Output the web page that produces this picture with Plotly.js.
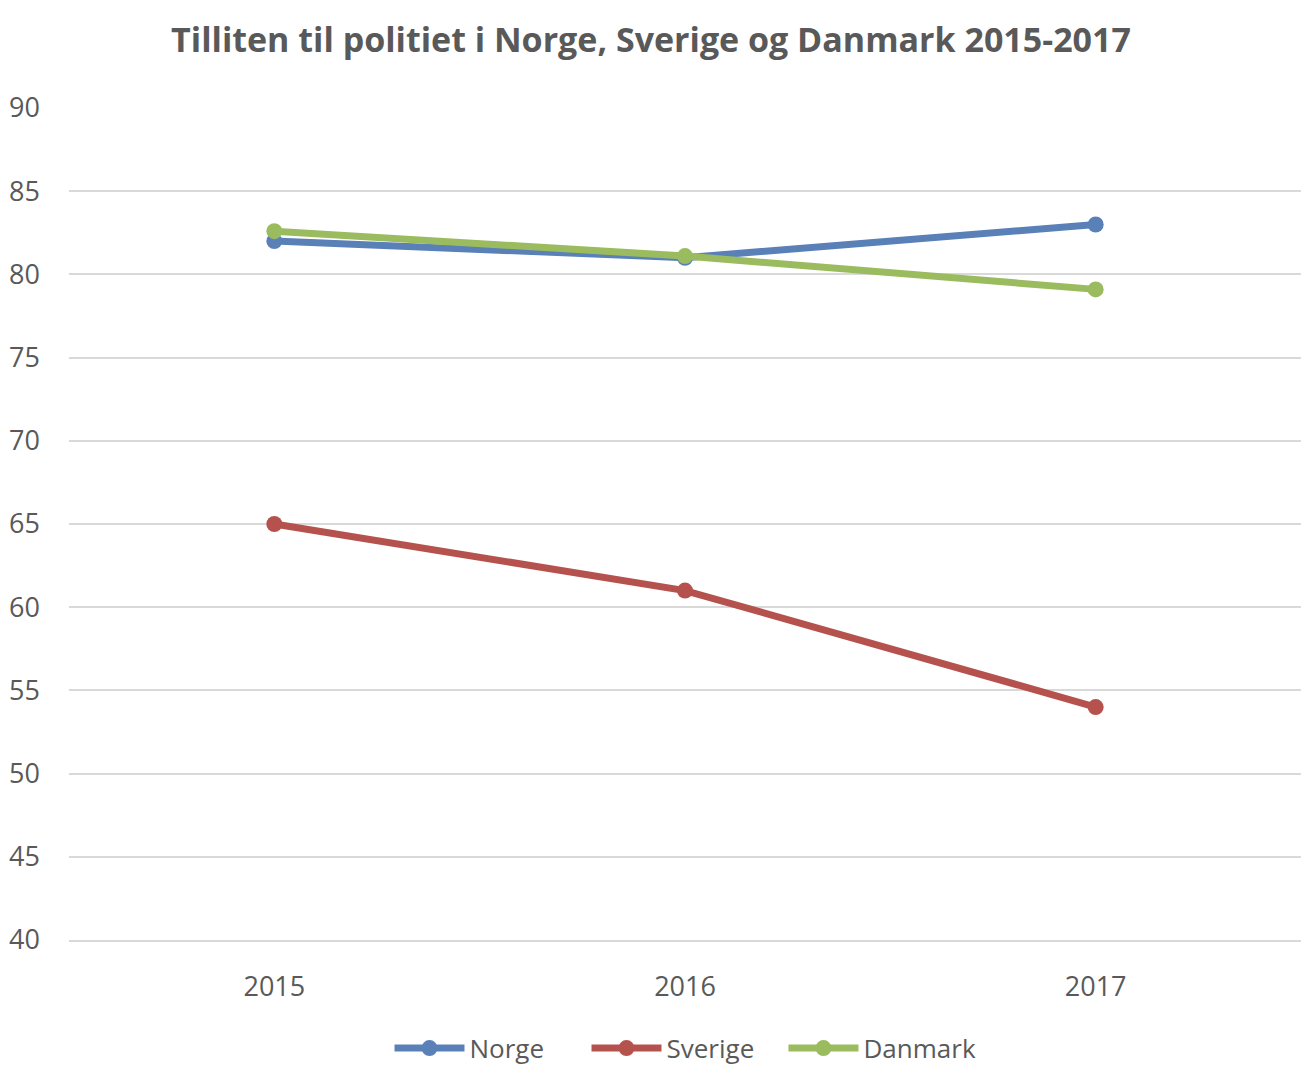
<!DOCTYPE html>
<html>
<head>
<meta charset="utf-8">
<script src="https://cdn.plot.ly/plotly-3.0.1.min.js"></script>
<style>html,body{margin:0;padding:0;background:#fff;}#chart{width:1302px;height:1082px;}</style>
</head>
<body>
<div id="chart"></div>
<script>
const years = ['2015', '2016', '2017'];
const norge = [82, 81, 83];
const sverige = [65, 61, 54];
const danmark = [82.6, 81.1, 79.1];
const yTicks = [40, 45, 50, 55, 60, 65, 70, 75, 80, 85, 90];

function series(name, y, color) {
  return {
    type: 'scatter', mode: 'lines+markers', name: name,
    x: years, y: y,
    line: {color: color, width: 7},
    marker: {color: color, size: 16}
  };
}

const data = [
  series('Norge', norge, '#5A80B8'),
  series('Sverige', sverige, '#B5524E'),
  series('Danmark', danmark, '#9BBB5F')
];

const layout = {
  width: 1302, height: 1082,
  margin: {l: 69, r: 1, t: 108, b: 142},
  paper_bgcolor: '#fff', plot_bgcolor: '#fff',
  font: {family: 'Open Sans, Lato, sans-serif', color: '#595959', size: 26},
  title: {
    text: '<b>Tilliten til politiet i Norge, Sverige og Danmark 2015-2017</b>',
    font: {family: 'Open Sans, sans-serif', size: 34, color: '#595959'},
    x: 0.5, xanchor: 'center', y: 0.963, yanchor: 'middle'
  },
  xaxis: {
    type: 'category', range: [-0.5, 2.5],
    showgrid: false, zeroline: false,
    showline: true, linecolor: '#D9D9D9', linewidth: 2,
    ticks: '', ticklabelstandoff: 22,
    tickfont: {size: 27, color: '#595959'}
  },
  yaxis: {
    range: [40, 90], tickvals: yTicks,
    showgrid: true, gridcolor: '#D9D9D9', gridwidth: 2,
    zeroline: false, showline: false, ticks: '',
    ticklabelstandoff: 28,
    tickfont: {size: 27, color: '#595959'}
  },
  legend: {
    orientation: 'h', x: 0.5, xanchor: 'center', y: -0.13, yanchor: 'middle',
    font: {size: 26, color: '#595959'}, itemwidth: 70, entrywidth: 112
  },
  showlegend: true
};

Plotly.newPlot('chart', data, layout, {displayModeBar: false});
</script>
</body>
</html>
